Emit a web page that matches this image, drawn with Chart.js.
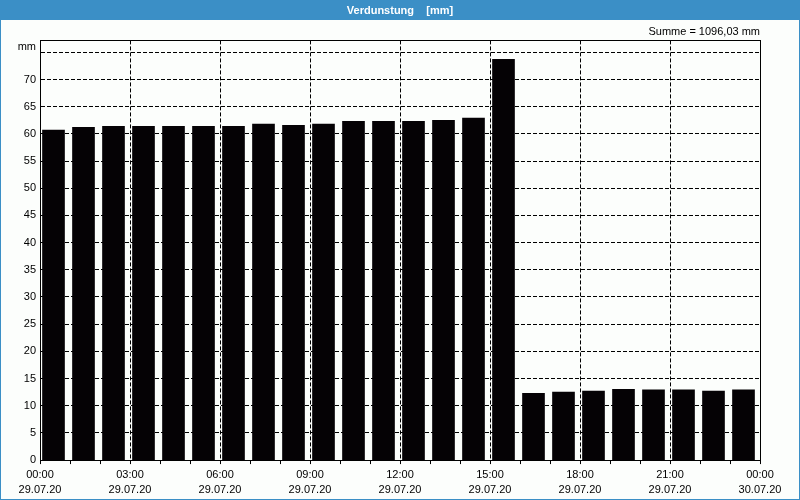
<!DOCTYPE html>
<html>
<head>
<meta charset="utf-8">
<script src="https://cdn.jsdelivr.net/npm/chart.js@4/dist/chart.umd.min.js"></script>
<style>
  html, body { margin: 0; padding: 0; background: #fcfefc; }
  #wrap { position: relative; width: 800px; height: 500px; box-sizing: border-box; border: 1px solid #3b8fc6; border-top: none; }
  canvas { position: absolute; left: -1px; top: 0; }
</style>
</head>
<body>
<div id="wrap"><canvas id="chart" width="800" height="500"></canvas></div>
<script>
// hourly values, 29.07.20
const hourLabels = ['00:00','01:00','02:00','03:00','04:00','05:00','06:00','07:00','08:00','09:00','10:00','11:00',
                    '12:00','13:00','14:00','15:00','16:00','17:00','18:00','19:00','20:00','21:00','22:00','23:00']
const evaporation = [60.7, 61.2, 61.4, 61.4, 61.4, 61.4, 61.4, 61.8, 61.6, 61.8, 62.3, 62.3,
                     62.3, 62.5, 62.9, 73.7, 12.3, 12.5, 12.7, 13.0, 12.9, 12.9, 12.7, 12.9]
// x axis labels every 3 hours
const axisTimes = ['00:00','03:00','06:00','09:00','12:00','15:00','18:00','21:00','00:00']
const axisDates = ['29.07.20','29.07.20','29.07.20','29.07.20','29.07.20','29.07.20','29.07.20','29.07.20','30.07.20']
const titleText = 'Verdunstung    [mm]'
const sumText = 'Summe = 1096,03 mm'
const unitText = 'mm'

const font = { family: '"Liberation Sans", Arial, sans-serif', size: 11 }

// blue header band, frame round the plot and the unit label
const decor = {
    id: 'decor',
    beforeDraw(chart) {
        const ctx = chart.ctx
        ctx.save()
        ctx.fillStyle = '#3b8fc6'
        ctx.fillRect(0, 0, chart.width, 20)
        ctx.restore()
    },
    afterDraw(chart) {
        const {ctx, chartArea: a} = chart
        ctx.save()
        ctx.strokeStyle = '#000'
        ctx.lineWidth = 1
        ctx.strokeRect(Math.round(a.left) + 0.5, Math.round(a.top) + 0.5, Math.round(a.right - a.left), Math.round(a.bottom - a.top))
        ctx.fillStyle = '#000'
        ctx.font = '11px ' + font.family
        ctx.textAlign = 'right'
        ctx.textBaseline = 'middle'
        ctx.fillText(unitText, a.left - 4, a.top + 7)
        ctx.restore()
    }
}

new Chart(document.getElementById('chart'), {
    type: 'bar',
    data: {
        labels: hourLabels,
        datasets: [{
            label: 'Verdunstung',
            data: evaporation.map((v, i) => ({x: i + 0.45, y: v})),
            backgroundColor: '#050205',
            borderWidth: 0,
            barThickness: 22,
        }]
    },
    options: {
        responsive: false,
        animation: false,
        layout: { padding: { left: 0, right: 0, top: 0, bottom: 0 } },
        plugins: {
            legend: { display: false },
            tooltip: { enabled: false },
            title: {
                display: true,
                text: titleText,
                color: '#ffffff',
                font: { ...font, weight: 'bold' },
                padding: { top: 4, bottom: 3 },
            },
            subtitle: {
                display: true,
                text: sumText,
                align: 'end',
                fullSize: false,
                color: '#000',
                font: font,
                padding: { top: 5, bottom: 2 },
            },
        },
        scales: {
            x: {
                type: 'linear',
                min: 0,
                max: 24,
                offset: false,
                afterFit: s => { s.paddingLeft = 0; s.paddingRight = 40 },
                ticks: {
                    stepSize: 1,
                    autoSkip: false,
                    maxRotation: 0,
                    color: '#000',
                    font: { ...font, lineHeight: 1.36 },
                    padding: 3,
                    callback: v => v % 3 === 0 ? [axisTimes[v / 3], axisDates[v / 3]] : '',
                },
                grid: {
                    offset: false,
                    color: c => (c.tick && c.tick.value % 3 === 0 && c.tick.value > 0 && c.tick.value < 24) ? '#000' : 'rgba(0,0,0,0)',
                    tickColor: '#000',
                    tickLength: 4,
                    lineWidth: 1,
                },
                border: { color: '#000', dash: [4, 2] },
            },
            y: {
                min: 0,
                max: 77.2,
                afterFit: s => { s.width = 40; s.paddingTop = 0; s.paddingBottom = 0 },
                ticks: {
                    stepSize: 5,
                    includeBounds: false,
                    color: '#000',
                    font: font,
                    padding: 4,
                    callback: v => v >= 75 ? '' : String(v),
                },
                grid: {
                    color: c => c.tick && c.tick.value > 0 ? '#000' : 'rgba(0,0,0,0)',
                    drawTicks: false,
                },
                border: { color: '#000', dash: [4, 2] },
            }
        }
    },
    plugins: [decor]
})
</script>
</body>
</html>
